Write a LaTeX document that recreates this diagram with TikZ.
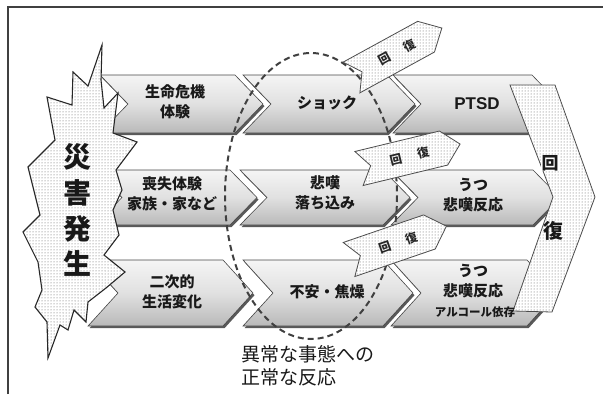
\documentclass[tikz,border=0pt]{standalone}
\usepackage{fontspec}
\newfontfamily\jp{Noto Sans CJK JP}
\newfontfamily\lat{Liberation Sans}
\usetikzlibrary{patterns}
\newcommand{\chevpath}[5]{(#1,#3) -- (#2,#3) -- ({#2+#5},{(#3+#4)/2}) -- (#2,#4) -- (#1,#4) -- ({#1+#5},{(#3+#4)/2}) -- cycle}
\tikzset{
  chevbody/.style={draw=gray!55!black, line width=0.6pt, top color=gray!8, bottom color=gray!55, middle color=gray!24},
  chevshade/.style={fill=gray!70!black, shift={(1.5,2.2)}},
  dotted area/.style={draw=black!85, line width=0.9pt, fill=white, postaction={pattern=dots, pattern color=black!65}},
  chevtxt/.style={text=black!90, align=center, font=\jp\bfseries\fontsize{15}{19.5}\selectfont, inner sep=0pt},
  smalltxt/.style={text=black!85, font=\jp\bfseries\fontsize{12}{13}\selectfont, inner sep=0pt},
  frameline/.style={draw=black!75, line width=1.2pt},
  ringline/.style={draw=black!75, line width=2pt, dash pattern=on 6pt off 4pt}
}
\begin{document}
\begin{tikzpicture}[x=1pt,y=-1pt]
\useasboundingbox (0,0) rectangle (603,394);
% frame
\coordinate (fa) at (8,394);
\coordinate (fb) at (8,7);
\coordinate (fc) at (603,7);
\draw[frameline] (fa) -- (fb) -- (fc);

% row 1
\fill[chevshade] \chevpath{100}{235}{75}{133}{28};
\shade[chevbody] \chevpath{100}{235}{75}{133}{28};
\fill[chevshade] \chevpath{243}{387}{75}{133}{28};
\shade[chevbody] \chevpath{243}{387}{75}{133}{28};
\fill[chevshade] \chevpath{393}{532}{75}{133}{28};
\shade[chevbody] \chevpath{393}{532}{75}{133}{28};
% row 2
\fill[chevshade] \chevpath{95}{230}{170}{225}{27};
\shade[chevbody] \chevpath{95}{230}{170}{225}{27};
\fill[chevshade] \chevpath{240}{383}{170}{225}{27};
\shade[chevbody] \chevpath{240}{383}{170}{225}{27};
\fill[chevshade] \chevpath{391}{533}{170}{225}{27};
\shade[chevbody] \chevpath{391}{533}{170}{225}{27};
% row 3
\fill[chevshade] \chevpath{88}{223}{260}{326}{30};
\shade[chevbody] \chevpath{88}{223}{260}{326}{30};
\fill[chevshade] \chevpath{243}{383}{260}{326}{30};
\shade[chevbody] \chevpath{243}{383}{260}{326}{30};
\fill[chevshade] \chevpath{391}{527}{260}{326}{30};
\shade[chevbody] \chevpath{391}{527}{260}{326}{30};

% big recovery band
\draw[dotted area, draw=black!70, line width=0.8pt] (510,85) -- (555,85) -- (595,197) -- (552,312) -- (513,311) -- (553,197) -- cycle;
\node[font=\jp\bfseries\fontsize{17}{18}\selectfont, fill=white, inner sep=0.5pt, text=black!90] (bigA) at (550,163) {回};
\node[font=\jp\bfseries\fontsize{20}{21}\selectfont, inner sep=0pt, text=black!90] (bigB) at (553,231) {復};

% dashed ring
\draw[ringline] (311,196) ellipse [x radius=86, y radius=143];

% small recovery arrows
\begin{scope}[shift={(351.5,77.5)}, rotate=28.7]
  \draw[dotted area, draw=black!70, line width=0.8pt] (0,-17.5) -- (85,-17.5) -- (103,0) -- (85,17.5) -- (0,17.5) -- (12,0) -- cycle;
  \node[smalltxt, rotate=28.7] (ra1) at (38,0) {回};
  \node[smalltxt, rotate=28.7] (ra2) at (66,0) {復};
\end{scope}
\begin{scope}[shift={(359,168.5)}, rotate=13.6]
  \draw[dotted area, draw=black!70, line width=0.8pt] (0,-17.5) -- (87,-17.5) -- (104,0) -- (87,17.5) -- (0,17.5) -- (12,0) -- cycle;
  \node[smalltxt, rotate=13.6] (rb1) at (38,0) {回};
  \node[smalltxt, rotate=13.6] (rb2) at (66,0) {復};
\end{scope}
\begin{scope}[shift={(349,259.5)}, rotate=18.9]
  \draw[dotted area, draw=black!70, line width=0.8pt] (0,-18) -- (85,-18) -- (103,0) -- (85,18) -- (0,18) -- (12,0) -- cycle;
  \node[smalltxt, rotate=18.9] (rc1) at (38,0) {回};
  \node[smalltxt, rotate=18.9] (rc2) at (66,0) {復};
\end{scope}

% burst
\draw[dotted area, line width=1.1pt, line join=miter]
  (102,45) -- (101,80) -- (104,108) -- (118,93) -- (113,133) -- (137,142) -- (116,170)
  -- (122,190) -- (113,210) -- (119,235) -- (104,255) -- (125,272) -- (106,288)
  -- (88,302) -- (86,322) -- (74,310) -- (68,330) -- (60,325) -- (48,358) -- (47,322)
  -- (35,307) -- (42,290) -- (38,262) -- (23,232) -- (40,215) -- (28,167) -- (55,140)
  -- (47,97) -- (72,105) -- (73,72) -- (88,86) -- cycle;
\node[font=\jp\bfseries\fontsize{28}{29}\selectfont, inner sep=0pt, text=black!90] (s1) at (77,157) {災};
\node[font=\jp\bfseries\fontsize{28}{29}\selectfont, inner sep=0pt, text=black!90] (s2) at (77,193) {害};
\node[font=\jp\bfseries\fontsize{28}{29}\selectfont, inner sep=0pt, text=black!90] (s3) at (77,229) {発};
\node[font=\jp\bfseries\fontsize{28}{29}\selectfont, inner sep=0pt, text=black!90] (s4) at (77,263) {生};

% chevron texts
\node[chevtxt] (t11) at (175,102) {生命危機\\体験};
\node[chevtxt] (t12) at (327,103) {ショック};
\node[chevtxt, font=\lat\bfseries\fontsize{17}{18}\selectfont] (t13) at (477,104) {PTSD};
\node[chevtxt] (t21) at (172,194) {喪失体験\\家族・家など};
\node[chevtxt] (t22) at (325,193) {悲嘆\\落ち込み};
\node[chevtxt] (t23) at (473,195) {うつ\\悲嘆反応};
\node[chevtxt] (t31) at (172,292) {二次的\\生活変化};
\node[chevtxt] (t32) at (327,292) {不安・焦燥};
\node[chevtxt] (t33) at (473,281) {うつ\\悲嘆反応};
\node[chevtxt, font=\jp\bfseries\fontsize{11.5}{13}\selectfont] (t34) at (475,312) {アルコール依存};

% ring label
\node[anchor=west, align=left, inner sep=0pt, text=black!90, font=\jp\fontsize{19}{23}\selectfont] (lab) at (241,366) {異常な事態への\\正常な反応};
\end{tikzpicture}
\end{document}
